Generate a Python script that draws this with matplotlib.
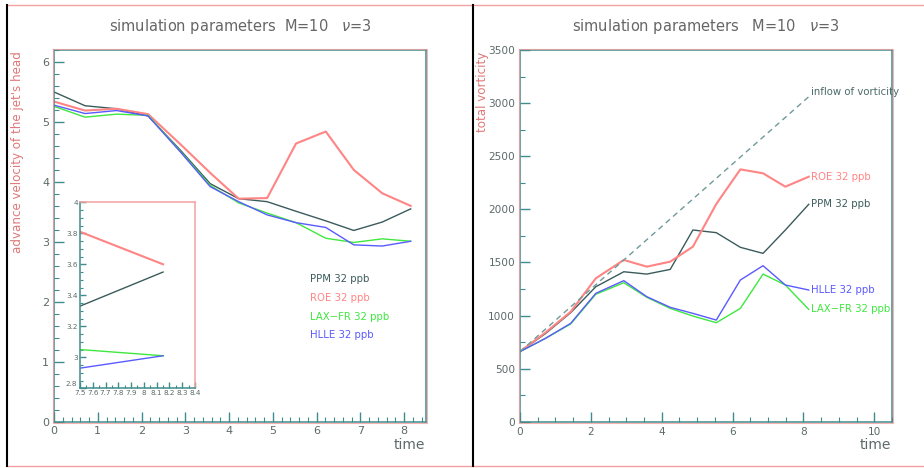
import matplotlib
matplotlib.use("Agg")
import matplotlib.pyplot as plt
from matplotlib.ticker import MultipleLocator, FuncFormatter
from matplotlib.lines import Line2D

# ---------------- data ----------------
time_left = [0, 0.71, 1.43, 2.15, 2.9, 3.57, 4.22, 4.87, 5.53, 6.21, 6.85, 7.5, 8.15]
ppm_vel   = [5.50, 5.27, 5.22, 5.10, 4.52, 3.97, 3.72, 3.67, 3.51, 3.35, 3.19, 3.33, 3.55]
roe_vel   = [5.34, 5.19, 5.22, 5.13, 4.62, 4.15, 3.72, 3.73, 4.64, 4.84, 4.20, 3.81, 3.60]
laxfr_vel = [5.26, 5.08, 5.13, 5.11, 4.50, 3.94, 3.65, 3.48, 3.32, 3.06, 2.99, 3.05, 3.01]
hlle_vel  = [5.28, 5.14, 5.19, 5.10, 4.49, 3.92, 3.67, 3.45, 3.32, 3.24, 2.95, 2.93, 3.01]

time_right = [0, 0.72, 1.43, 2.14, 2.93, 3.58, 4.24, 4.88, 5.54, 6.22, 6.86, 7.49, 8.15]
ppm_vort   = [660, 830, 1026, 1271, 1412, 1390, 1434, 1805, 1780, 1642, 1585, 1805, 2047]
roe_vort   = [660, 840, 1035, 1350, 1523, 1460, 1507, 1648, 2050, 2376, 2339, 2213, 2307]
laxfr_vort = [660, 785, 920, 1200, 1309, 1171, 1067, 995, 932, 1067, 1390, 1287, 1058]
hlle_vort  = [660, 785, 926, 1209, 1328, 1177, 1077, 1020, 957, 1334, 1469, 1287, 1240]
inflow_t   = [0, 8.15]
inflow_v   = [660, 3060]

labels = ["PPM 32 ppb", "ROE 32 ppb", "LAX\u2212FR 32 ppb", "HLLE 32 ppb"]
colors = ["#3b5b5b", "#ff8484", "#3ee83e", "#5a5aff"]
widths = [1.0, 1.5, 1.0, 1.0]

AX_COL = "#3f8c8c"
PINK = "#f4a0a0"
TXT = "#5c6a6a"
YLAB = "#e07878"

W, H = 924, 468
fig = plt.figure(figsize=(W / 100, H / 100), dpi=100)
fig.patch.set_facecolor("white")

def fx(px):
    return px / W

def fy(py):
    return 1 - py / H

# frame lines
fig.add_artist(Line2D([fx(8), fx(924)], [fy(5), fy(5)], color=PINK, lw=1.0))
fig.add_artist(Line2D([fx(8), fx(924)], [fy(466), fy(466)], color=PINK, lw=1.0))
fig.add_artist(Line2D([fx(7), fx(7)], [fy(5), fy(466)], color="black", lw=1.5))
fig.add_artist(Line2D([fx(473), fx(473)], [fy(5), fy(466)], color="black", lw=1.5))

def style_axes(ax, fs=8):
    for s in ax.spines.values():
        s.set_color(AX_COL)
        s.set_linewidth(1.1)
    ax.tick_params(which="both", direction="in", top=False, right=False,
                   colors=AX_COL, labelcolor=TXT, labelsize=fs)
    ax.tick_params(which="major", length=7, width=1.0)
    ax.tick_params(which="minor", length=3.5, width=0.8)

def pink_shadow(x0, y0, x1, y1):
    # slight pink offset frame like the reference rendering
    xs = [fx(x0 - 1), fx(x1 + 1), fx(x1 + 1), fx(x0 - 1), fx(x0 - 1)]
    ys = [fy(y0 - 1), fy(y0 - 1), fy(y1 + 1), fy(y1 + 1), fy(y0 - 1)]
    fig.add_artist(Line2D(xs, ys, color=PINK, lw=0.8, alpha=0.8))

fmt = FuncFormatter(lambda v, p: "%g" % round(v, 6))

# ---------------- left panel ----------------
L = (54, 50, 426, 421.7)
pink_shadow(*L)
ax1 = fig.add_axes([fx(L[0]), fy(L[3]), fx(L[2] - L[0]), (L[3] - L[1]) / H])
series_l = [ppm_vel, roe_vel, laxfr_vel, hlle_vel]
for ys, c, w in zip(series_l, colors, widths):
    ax1.plot(time_left, ys, color=c, lw=w)
ax1.set_xlim(0, 8.5)
ax1.set_ylim(0, 6.2)
ax1.xaxis.set_major_locator(MultipleLocator(1))
ax1.xaxis.set_minor_locator(MultipleLocator(0.2))
ax1.yaxis.set_major_locator(MultipleLocator(1))
ax1.yaxis.set_minor_locator(MultipleLocator(0.2))
ax1.xaxis.set_major_formatter(fmt)
ax1.yaxis.set_major_formatter(fmt)
style_axes(ax1, 8)
ax1.tick_params(axis="x", pad=3)
ytext = [2.38, 2.06, 1.75, 1.45]
for lab, c, yy in zip(labels, colors, ytext):
    ax1.text(5.86, yy, lab, color=c, fontsize=7.3, va="center", ha="left")

fig.text(fx(240), fy(27), "simulation parameters  M=10   $\\nu$=3", ha="center",
         va="center", fontsize=10.5, color="#666666")
fig.text(fx(18), fy(152), "advance velocity of the jet's head", rotation=90,
         ha="center", va="center", fontsize=8.6, color=YLAB)
fig.text(fx(425), fy(445), "time", ha="right", va="center", fontsize=10, color=TXT)

# inset
I = (80, 202.3, 195, 388.3)
ax3 = fig.add_axes([fx(I[0]), fy(I[3]), fx(I[2] - I[0]), (I[3] - I[1]) / H])
for s in ax3.spines.values():
    s.set_zorder(5)
for ys, c, w in zip(series_l, colors, widths):
    ax3.plot(time_left, ys, color=c, lw=w)
ax3.set_xlim(7.5, 8.4)
ax3.set_ylim(2.8, 4.0)
ax3.xaxis.set_major_locator(MultipleLocator(0.1))
ax3.xaxis.set_minor_locator(MultipleLocator(0.05))
ax3.yaxis.set_major_locator(MultipleLocator(0.2))
ax3.yaxis.set_minor_locator(MultipleLocator(0.05))
ax3.xaxis.set_major_formatter(fmt)
# lowest y label drawn separately (slightly raised) so it does not collide with "7.5"
ax3.yaxis.set_major_formatter(FuncFormatter(
    lambda v, p: "" if abs(v - 2.8) < 1e-6 else "%g" % round(v, 6)))
style_axes(ax3, 5.2)
ax3.tick_params(which="major", length=4)
ax3.tick_params(which="minor", length=2)
ax3.tick_params(axis="x", pad=1.0)
ax3.tick_params(axis="y", pad=1.5)
ax3.spines["top"].set_color(PINK)
ax3.spines["right"].set_color(PINK)
ax3.annotate("2.8", xy=(0, 0), xycoords="axes fraction", xytext=(-2, 1),
             textcoords="offset points", ha="right", va="bottom",
             fontsize=5.2, color=TXT)

# ---------------- right panel ----------------
R = (520, 50, 892, 421.7)
pink_shadow(*R)
ax2 = fig.add_axes([fx(R[0]), fy(R[3]), fx(R[2] - R[0]), (R[3] - R[1]) / H])
series_r = [ppm_vort, roe_vort, laxfr_vort, hlle_vort]
for ys, c, w in zip(series_r, colors, widths):
    ax2.plot(time_right, ys, color=c, lw=w)
ax2.plot(inflow_t, inflow_v, color="#6f9a9a", lw=1.0, ls=(0, (4, 3)))
ax2.set_xlim(0, 10.5)
ax2.set_ylim(0, 3500)
ax2.xaxis.set_major_locator(MultipleLocator(2))
ax2.xaxis.set_minor_locator(MultipleLocator(0.5))
ax2.yaxis.set_major_locator(MultipleLocator(500))
ax2.yaxis.set_minor_locator(MultipleLocator(250))
ax2.xaxis.set_major_formatter(fmt)
ax2.yaxis.set_major_formatter(fmt)
style_axes(ax2, 7.6)

rlab_y = {"PPM 32 ppb": 2050, "ROE 32 ppb": 2307, "LAX\u2212FR 32 ppb": 1061, "HLLE 32 ppb": 1240}
for lab, c in zip(labels, colors):
    ax2.text(8.2, rlab_y[lab], lab, color=c, fontsize=7.3, va="center", ha="left")
ax2.text(8.2, 3107, "inflow of vorticity", color="#4a6a6a", fontsize=7.3,
         va="center", ha="left")

fig.text(fx(706), fy(27), "simulation parameters   M=10   $\\nu$=3", ha="center",
         va="center", fontsize=10.5, color="#666666")
fig.text(fx(482), fy(92), "total vorticity", rotation=90,
         ha="center", va="center", fontsize=8.6, color=YLAB)
fig.text(fx(891), fy(445), "time", ha="right", va="center", fontsize=10, color=TXT)

fig.savefig("out.png", dpi=100, facecolor="white")
